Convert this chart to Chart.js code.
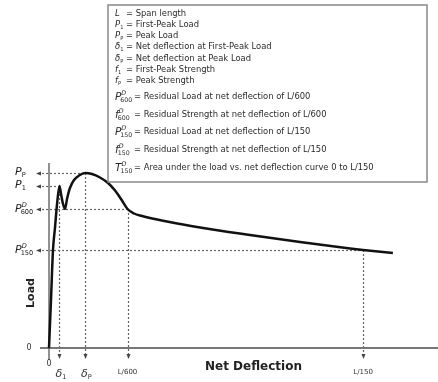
<!DOCTYPE html>
<html>
<head>
<meta charset="utf-8">
<script src="https://cdn.jsdelivr.net/npm/chart.js@4/dist/chart.umd.min.js"></script>
<style>
  html, body { margin: 0; padding: 0; background: #fff; }
  #wrap { width: 438px; height: 382px; position: relative; }
</style>
</head>
<body>
<div id="wrap"><canvas id="c" width="438" height="382"></canvas></div>
<script>
// Load vs. net deflection curve (deflection in mm for a 450 mm span, load in kN)
const deflection = [0, 0.019, 0.038, 0.057, 0.076, 0.1, 0.115, 0.134, 0.153, 0.172, 0.2, 0.239, 0.287, 0.345, 0.411, 0.487, 0.564, 0.631, 0.688, 0.75, 0.812, 0.889, 0.965, 1.127, 1.443, 1.92, 2.398, 2.876, 3.0, 3.285];
const load = [0, 9.6, 19.6, 24.0, 28.6, 32.4, 30.8, 28.8, 27.8, 29.8, 32.0, 33.6, 34.5, 35.0, 34.8, 34.1, 33.0, 31.5, 29.8, 27.8, 26.9, 26.4, 26.0, 25.3, 24.1, 22.6, 21.2, 19.9, 19.6, 19.0];

// Characteristic deflections (x markers) and loads (y markers)
const markDeflections = [0.1, 0.345, 0.75, 3.0];
const markDeflectionLabels = [['δ', '1'], ['δ', 'P'], ['L/600', ''], ['L/150', '']];
const markLoads = [35.0, 32.4, 27.8, 19.6];
const markLoadLabels = [['P', 'P', ''], ['P', '1', ''], ['P', '600', 'D'], ['P', '150', 'D']];
// each load marker runs across to this deflection
const markLoadReach = [0.345, 0.1, 0.75, 3.0];
// each deflection marker drops from this load
const markDeflectionFrom = [32.4, 35.0, 27.8, 19.6];

const yAxisTitle = 'Load';
const xAxisTitle = 'Net Deflection';

// Notation key: [symbol, subscript, superscript, description]
const notation = [
  ['L', '', '', 'Span length'],
  ['P', '1', '', 'First-Peak Load'],
  ['P', 'P', '', 'Peak Load'],
  ['δ', '1', '', 'Net deflection at First-Peak Load'],
  ['δ', 'P', '', 'Net deflection at Peak Load'],
  ['f', '1', '', 'First-Peak Strength'],
  ['f', 'P', '', 'Peak Strength'],
  ['P', '600', 'D', 'Residual Load at net deflection of L/600'],
  ['f', '600', 'D', 'Residual Strength at net deflection of L/600'],
  ['P', '150', 'D', 'Residual Load at net deflection of L/150'],
  ['f', '150', 'D', 'Residual Strength at net deflection of L/150'],
  ['T', '150', 'D', 'Area under the load vs. net deflection curve 0 to L/150']
];
const notationY = [14, 25, 36, 47, 59, 70, 81, 97, 115, 132, 150, 168];

const FONT = '"DejaVu Sans", Verdana, sans-serif';

function drawSymbol(ctx, x, y, base, sub, sup, size, color) {
  ctx.fillStyle = color;
  ctx.textAlign = 'left';
  ctx.textBaseline = 'middle';
  ctx.font = `italic ${size}px ${FONT}`;
  ctx.fillText(base, x, y);
  const w = ctx.measureText(base).width;
  const s = size * 0.6;
  let w2 = 0;
  if (sup) {
    ctx.font = `italic ${s}px ${FONT}`;
    ctx.fillText(sup, x + w, y - size * 0.3);
    w2 = Math.max(w2, ctx.measureText(sup).width);
  }
  if (sub) {
    ctx.font = `${s}px ${FONT}`;
    ctx.fillText(sub, x + w - (sup ? 1 : 0), y + size * 0.32);
    w2 = Math.max(w2, ctx.measureText(sub).width);
  }
  return w + w2;
}

const guides = {
  id: 'guides',
  beforeDatasetsDraw(chart) {
    const { ctx, chartArea, scales: { x, y } } = chart;
    const x0 = x.getPixelForValue(0);
    const y0 = y.getPixelForValue(0);
    const yBottom = y.getPixelForValue(-2.0);
    ctx.save();
    // dotted guide lines
    ctx.strokeStyle = '#666';
    ctx.lineWidth = 1.2;
    ctx.setLineDash([2, 2]);
    markLoads.forEach((v, i) => {
      const py = Math.round(y.getPixelForValue(v)) + 0.5;
      ctx.beginPath();
      ctx.moveTo(chartArea.left - 2, py);
      ctx.lineTo(x.getPixelForValue(markLoadReach[i]), py);
      ctx.stroke();
    });
    markDeflections.forEach((d, i) => {
      const px = Math.round(x.getPixelForValue(d)) + 0.5;
      ctx.beginPath();
      ctx.moveTo(px, y.getPixelForValue(markDeflectionFrom[i]));
      ctx.lineTo(px, yBottom);
      ctx.stroke();
    });
    ctx.setLineDash([]);
    // arrowheads
    ctx.fillStyle = '#444';
    markLoads.forEach(v => {
      const py = Math.round(y.getPixelForValue(v)) + 0.5;
      const ax = chartArea.left - 4;
      ctx.beginPath();
      ctx.moveTo(ax, py);
      ctx.lineTo(ax + 5, py - 2);
      ctx.lineTo(ax + 5, py + 2);
      ctx.closePath();
      ctx.fill();
    });
    markDeflections.forEach(d => {
      const px = Math.round(x.getPixelForValue(d)) + 0.5;
      ctx.beginPath();
      ctx.moveTo(px, yBottom + 1);
      ctx.lineTo(px - 2, yBottom - 4);
      ctx.lineTo(px + 2, yBottom - 4);
      ctx.closePath();
      ctx.fill();
    });
    // axes
    ctx.strokeStyle = '#777';
    ctx.lineWidth = 2;
    ctx.beginPath();
    ctx.moveTo(chartArea.left, y0);
    ctx.lineTo(chartArea.right, y0);
    ctx.stroke();
    ctx.strokeStyle = '#555';
    ctx.lineWidth = 1.3;
    ctx.beginPath();
    ctx.moveTo(x0, chartArea.top);
    ctx.lineTo(x0, chartArea.bottom);
    ctx.stroke();
    ctx.restore();
  },
  afterDraw(chart) {
    const { ctx, scales: { x, y } } = chart;
    ctx.save();
    // load labels on the left
    markLoads.forEach((v, i) => {
      const [b, sub, sup] = markLoadLabels[i];
      drawSymbol(ctx, 15, y.getPixelForValue(v) - (sup ? 0 : 1), b, sub, sup, 11, '#222');
    });
    // zero labels
    ctx.fillStyle = '#333';
    ctx.font = `8px ${FONT}`;
    ctx.textAlign = 'center';
    ctx.textBaseline = 'middle';
    ctx.fillText('0', 29, y.getPixelForValue(0));
    ctx.fillText('0', x.getPixelForValue(0), 364);
    // deflection labels below the axis
    markDeflections.forEach((d, i) => {
      const [b, sub] = markDeflectionLabels[i];
      const px = x.getPixelForValue(d);
      if (sub) {
        drawSymbol(ctx, px - 4, 374, b, sub, '', 11, '#333');
      } else {
        ctx.fillStyle = '#333';
        ctx.font = `7px ${FONT}`;
        ctx.textAlign = 'center';
        ctx.textBaseline = 'middle';
        ctx.fillText(b, px, 372);
      }
    });
    // axis titles
    ctx.fillStyle = '#222';
    ctx.font = `bold 12px ${FONT}`;
    ctx.textAlign = 'left';
    ctx.textBaseline = 'middle';
    ctx.fillText(xAxisTitle, 205, 367);
    ctx.save();
    ctx.translate(31, 293);
    ctx.rotate(-Math.PI / 2);
    ctx.textAlign = 'center';
    ctx.font = `bold 11px ${FONT}`;
    ctx.fillText(yAxisTitle, 0, 0);
    ctx.restore();
    // notation key box
    ctx.fillStyle = '#fff';
    ctx.fillRect(108, 5, 319, 177);
    ctx.strokeStyle = '#888';
    ctx.lineWidth = 1.5;
    ctx.strokeRect(108, 5, 319, 177);
    notation.forEach((row, i) => {
      const [b, sub, sup, desc] = row;
      const yy = notationY[i];
      const big = !!sup;
      drawSymbol(ctx, 115, yy, b, sub, sup, big ? 10.5 : 8.5, '#2a2a2a');
      ctx.fillStyle = '#2a2a2a';
      ctx.font = `8.4px ${FONT}`;
      ctx.textAlign = 'left';
      ctx.textBaseline = 'middle';
      ctx.fillText('= ' + desc, big ? 134 : 126, yy);
    });
    ctx.restore();
  }
};

new Chart(document.getElementById('c'), {
  type: 'line',
  data: {
    datasets: [{
      data: deflection.map((d, i) => ({ x: d, y: load[i] })),
      borderColor: '#111',
      borderWidth: 2.5,
      pointRadius: 0,
      cubicInterpolationMode: 'monotone',
      fill: false
    }]
  },
  options: {
    responsive: false,
    animation: false,
    events: [],
    layout: { padding: { left: 40, right: 0, top: 163, bottom: 22 } },
    plugins: { legend: { display: false }, tooltip: { enabled: false } },
    scales: {
      x: { type: 'linear', min: -0.086, max: 3.716, display: false },
      y: { type: 'linear', min: -2.4, max: 37, display: false }
    }
  },
  plugins: [guides]
});
</script>
</body>
</html>
